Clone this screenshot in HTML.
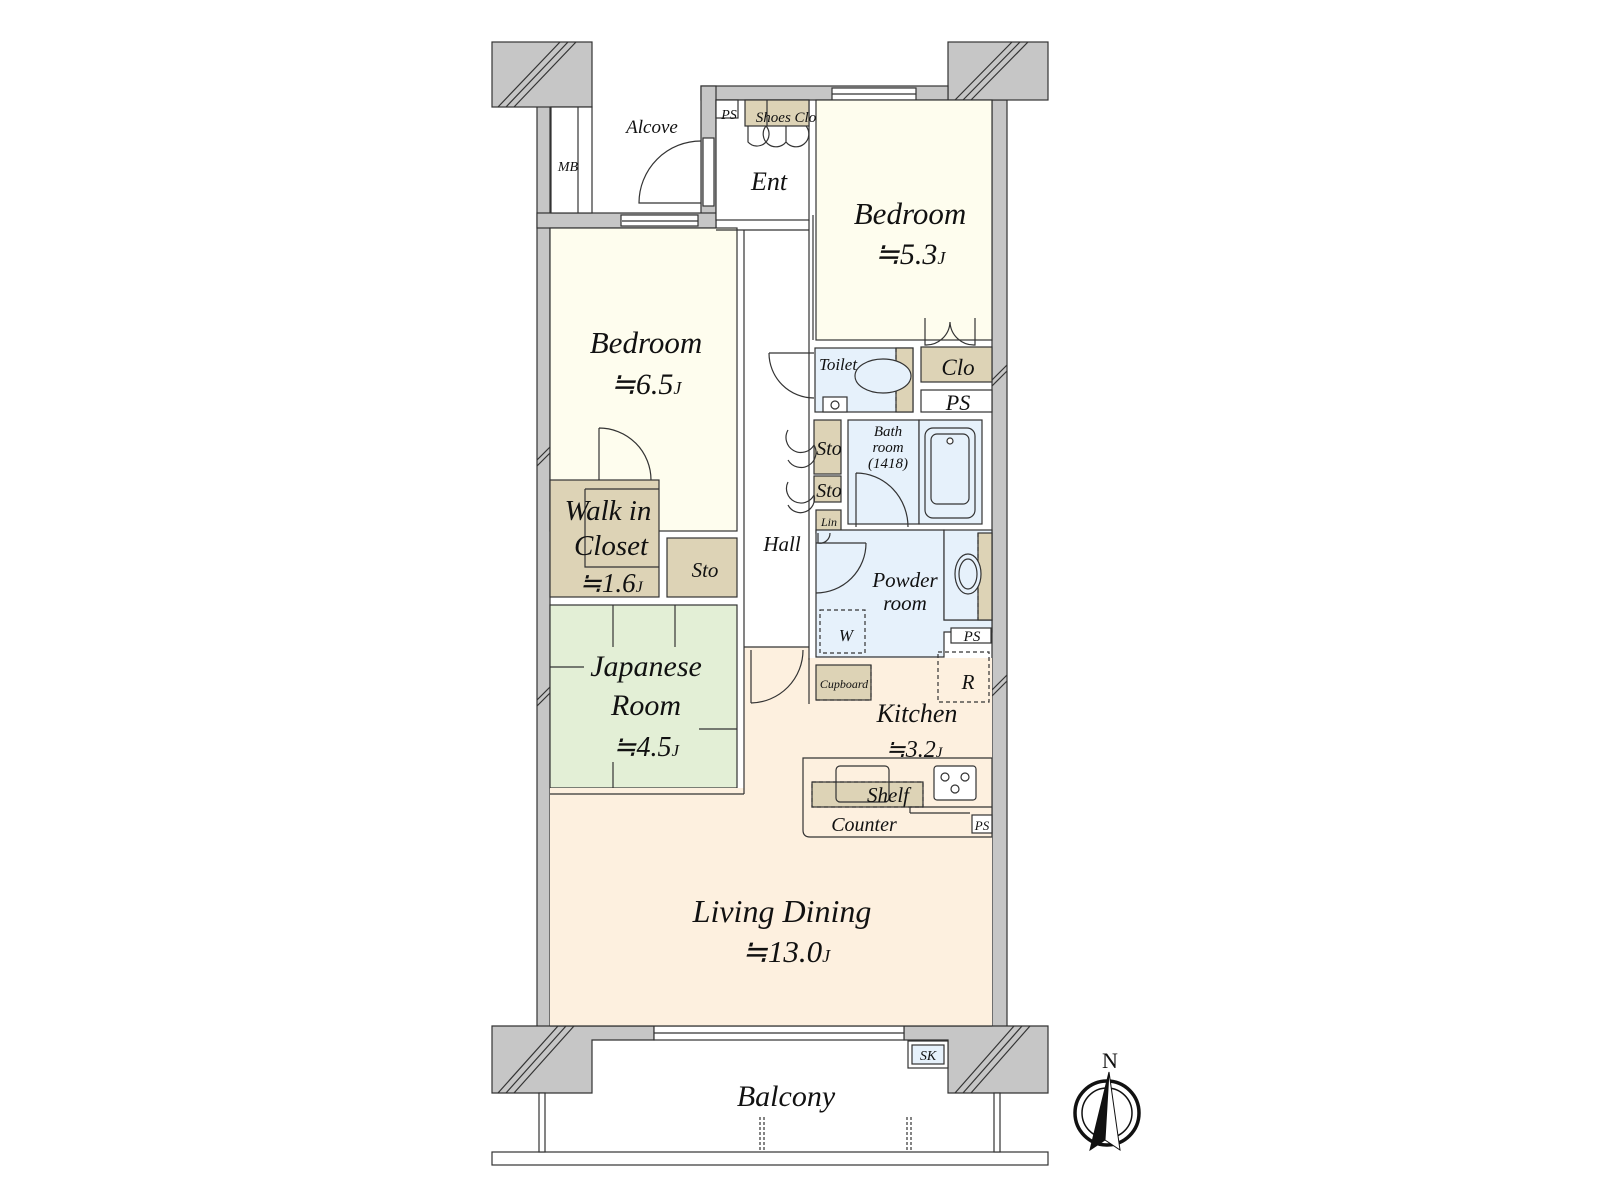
<!DOCTYPE html>
<html><head><meta charset="utf-8"><style>
html,body{margin:0;padding:0;background:#fff;}
svg{display:block;}
text{font-family:"Liberation Serif",serif;font-style:italic;fill:#111;text-anchor:middle;}
</style></head><body>
<svg width="1600" height="1200" viewBox="0 0 1600 1200" xmlns="http://www.w3.org/2000/svg">
<g stroke="#333" stroke-width="1.2">
<rect x="537" y="100" width="13" height="940" fill="#c6c6c6"/>
<rect x="992" y="100" width="15" height="940" fill="#c6c6c6"/>
<rect x="492" y="42" width="100" height="65" fill="#c6c6c6"/>
<rect x="948" y="42" width="100" height="58" fill="#c6c6c6"/>
<rect x="701" y="86" width="247" height="14" fill="#c6c6c6"/>
<rect x="832" y="88" width="84" height="12" fill="#fff"/>
<rect x="701" y="86" width="15" height="142" fill="#c6c6c6"/>
<rect x="703" y="138" width="11" height="68" fill="#fff"/>
<rect x="537" y="213" width="179" height="15" fill="#c6c6c6"/>
<rect x="621" y="215" width="77" height="11" fill="#fff"/>
<path d="M492,1026 H654 V1040 H592 V1093 H492 Z" fill="#c6c6c6"/>
<path d="M904,1026 H1048 V1093 H948 V1040 H904 Z" fill="#c6c6c6"/>
<rect x="654" y="1026" width="250" height="14" fill="#fff"/>
</g>
<g stroke="#333" stroke-width="1.2">
<line x1="498" y1="107" x2="560" y2="42"/><line x1="506" y1="107" x2="568" y2="42"/><line x1="514" y1="107" x2="576" y2="42"/>
<line x1="955" y1="100" x2="1012" y2="42"/><line x1="963" y1="100" x2="1020" y2="42"/><line x1="971" y1="100" x2="1028" y2="42"/>
<line x1="498" y1="1093" x2="558" y2="1026"/><line x1="506" y1="1093" x2="566" y2="1026"/><line x1="514" y1="1093" x2="574" y2="1026"/>
<line x1="955" y1="1093" x2="1014" y2="1026"/><line x1="963" y1="1093" x2="1022" y2="1026"/><line x1="971" y1="1093" x2="1030" y2="1026"/>
<line x1="537" y1="460" x2="550" y2="447"/><line x1="537" y1="466" x2="550" y2="453"/>
<line x1="537" y1="700" x2="550" y2="687"/><line x1="537" y1="706" x2="550" y2="693"/>
<line x1="992" y1="380" x2="1007" y2="365"/><line x1="992" y1="386" x2="1007" y2="371"/>
<line x1="992" y1="690" x2="1007" y2="675"/><line x1="992" y1="696" x2="1007" y2="681"/>
</g>
<g stroke="#333" stroke-width="1.2">
<line x1="654" y1="1033" x2="904" y2="1033"/><line x1="622" y1="221" x2="698" y2="221"/><line x1="832" y1="94" x2="916" y2="94"/>
<rect x="551" y="107" width="41" height="106" fill="#fff"/><line x1="578" y1="107" x2="578" y2="213"/>
<rect x="816" y="100" width="176" height="240" fill="#fefdee"/>
<rect x="550" y="228" width="187" height="303" fill="#fefdee"/>
<rect x="550" y="480" width="109" height="117" fill="#ddd3b6"/>
<path d="M585,489 H659" fill="none"/><path d="M585,489 V567 H659" fill="none"/>
<rect x="667" y="538" width="70" height="59" fill="#ddd3b6"/>
<rect x="550" y="605" width="187" height="183" fill="#e3efd6"/>
<rect x="550" y="788" width="442" height="238" fill="#fdf0df" stroke="none"/>
<path d="M744,647 H809 V658 H992 V1026 H550 V794 H744 Z" fill="#fdf0df" stroke="none"/>
<line x1="550" y1="1026" x2="992" y2="1026"/>
<line x1="744" y1="647" x2="744" y2="794"/>
<line x1="550" y1="794" x2="744" y2="794"/>
<rect x="716" y="100" width="93" height="120" fill="#fff"/>
<rect x="716" y="100" width="22" height="18" fill="#fff"/>
<rect x="745" y="100" width="64" height="26" fill="#ddd3b6"/>
<line x1="767" y1="100" x2="767" y2="126"/>
<line x1="716" y1="230" x2="809" y2="230"/>
<line x1="744" y1="230" x2="744" y2="647"/>
<line x1="809" y1="220" x2="809" y2="660"/>
<line x1="744" y1="647" x2="809" y2="647"/>
<rect x="815" y="348" width="98" height="64" fill="#e6f1fb"/>
<rect x="896" y="348" width="17" height="64" fill="#ddd3b6"/>
<line x1="896" y1="348" x2="896" y2="412" stroke-dasharray="4,3"/>
<ellipse cx="883" cy="376" rx="28" ry="17" fill="#e6f1fb"/>
<rect x="823" y="397" width="24" height="15" fill="#fff"/>
<circle cx="835" cy="405" r="4" fill="none"/>
<rect x="921" y="347" width="71" height="35" fill="#ddd3b6"/>
<rect x="921" y="390" width="71" height="22" fill="#fff"/>
<rect x="814" y="420" width="27" height="54" fill="#ddd3b6"/>
<rect x="814" y="476" width="27" height="26" fill="#ddd3b6"/>
<rect x="816" y="510" width="25" height="23" fill="#ddd3b6"/>
<rect x="848" y="420" width="71" height="104" fill="#e6f1fb"/>
<rect x="919" y="420" width="63" height="104" fill="#e6f1fb"/>
<rect x="925" y="428" width="50" height="90" rx="8" fill="#e6f1fb"/>
<rect x="931" y="434" width="38" height="70" rx="6" fill="#e6f1fb"/>
<circle cx="950" cy="441" r="3" fill="#fff"/>
<path d="M816,530 H944 V620 H992 V632 H944 V657 H816 Z" fill="#e6f1fb"/>
<rect x="944" y="530" width="48" height="90" fill="#e6f1fb"/>
<rect x="978" y="533" width="14" height="87" fill="#ddd3b6"/>
<line x1="978" y1="533" x2="978" y2="620" stroke-dasharray="4,3"/>
<ellipse cx="968" cy="574" rx="13" ry="20" fill="#e6f1fb"/>
<ellipse cx="968" cy="574" rx="9" ry="15" fill="none"/>
<rect x="820" y="610" width="45" height="43" fill="none" stroke-dasharray="4,3"/>
<rect x="951" y="628" width="40" height="15" fill="#fff"/>
<rect x="816" y="665" width="55" height="35" fill="#ddd3b6"/>
<line x1="816" y1="700" x2="871" y2="700" stroke-dasharray="4,3"/>
<line x1="871" y1="665" x2="871" y2="700" stroke-dasharray="4,3"/>
<rect x="938" y="652" width="51" height="50" fill="none" stroke-dasharray="4,3"/>
<line x1="809" y1="658" x2="809" y2="704"/>
<path d="M803,758 H992 V837 H810 Q803,837 803,830 Z" fill="#fdf0df"/>
<rect x="812" y="782" width="111" height="25" fill="#ddd3b6"/>
<rect x="812" y="782" width="111" height="25" fill="none" stroke-dasharray="4,3"/>
<rect x="836" y="766" width="53" height="36" rx="4" fill="none"/>
<rect x="934" y="766" width="42" height="34" rx="3" fill="#fff"/>
<circle cx="945" cy="777" r="4" fill="none"/><circle cx="965" cy="777" r="4" fill="none"/><circle cx="955" cy="789" r="4" fill="none"/>
<line x1="910" y1="807" x2="992" y2="807"/>
<line x1="910" y1="807" x2="910" y2="813"/><line x1="910" y1="813" x2="970" y2="813"/>
<rect x="972" y="815" width="20" height="18" fill="#fff"/>
<line x1="613" y1="605" x2="613" y2="647"/><line x1="675" y1="605" x2="675" y2="647"/>
<line x1="550" y1="667" x2="584" y2="667"/><line x1="699" y1="729" x2="737" y2="729"/>
<line x1="613" y1="762" x2="613" y2="788"/>
<g fill="none">
<path d="M701,141 A62,62 0 0 0 639,203 L701,203"/>
<path d="M599,428 A52,52 0 0 1 651,480 M599,428 V480"/>
<path d="M856,473 A52,54 0 0 1 908,527 M856,473 V527"/>
<path d="M866,543 A50,50 0 0 1 816,593 M816,543 H866"/>
<path d="M803,650 A53,53 0 0 1 751,703 M751,650 V703"/>
<path d="M769,353 A45,45 0 0 0 814,398 M769,353 H814"/>
<path d="M788,430 A14,14 0 0 0 814,445 M788,460 A14,14 0 0 0 814,445 M788,482 A14,14 0 0 0 814,495 M788,505 A14,14 0 0 0 814,495"/>
<path d="M925,318 V345 A24,24 0 0 0 950,322 M975,318 V345 A24,24 0 0 1 950,322"/>
<path d="M748,126 V142 A10,10 0 0 0 766,126 M786,126 V142 A10,10 0 0 1 766,126 M786,126 V142 A10,10 0 0 0 806,126"/>
<path d="M818,533 V543 A10,10 0 0 0 830,533"/>
</g>
<line x1="813" y1="215" x2="813" y2="340"/>
<rect x="492" y="1152" width="556" height="13" fill="#fff"/>
<rect x="539" y="1093" width="6" height="59" fill="#fff"/>
<rect x="994" y="1093" width="6" height="59" fill="#fff"/>
<line x1="760" y1="1117" x2="760" y2="1150" stroke-dasharray="3,2"/><line x1="764" y1="1117" x2="764" y2="1150" stroke-dasharray="3,2"/>
<line x1="907" y1="1117" x2="907" y2="1150" stroke-dasharray="3,2"/><line x1="911" y1="1117" x2="911" y2="1150" stroke-dasharray="3,2"/>
<rect x="908" y="1041" width="40" height="27" fill="#fff"/>
<rect x="912" y="1045" width="32" height="19" fill="#e6f1fb"/>
</g>
<g stroke="#111">
<circle cx="1107" cy="1113" r="32" fill="none" stroke-width="3.5"/>
<circle cx="1107" cy="1113" r="25" fill="none" stroke-width="1.5"/>
<path d="M1109,1072 L1090,1150 L1105,1140 Z" fill="#111" stroke-width="1"/>
<path d="M1109,1072 L1120,1150 L1105,1140 Z" fill="#fff" stroke-width="1"/>
</g>
<text x="1110" y="1068" font-size="22" style="font-style:normal">N</text>
<text x="652" y="133" font-size="19">Alcove</text>
<text x="568" y="171" font-size="14">MB</text>
<text x="729" y="119" font-size="14">PS</text>
<text x="786" y="122" font-size="15">Shoes Clo</text>
<text x="769" y="190" font-size="26">Ent</text>
<text x="910" y="224" font-size="31">Bedroom</text>
<text x="910" y="264" font-size="30">≒5.3<tspan font-size="18">J</tspan></text>
<text x="646" y="353" font-size="31">Bedroom</text>
<text x="646" y="394" font-size="30">≒6.5<tspan font-size="18">J</tspan></text>
<text x="838" y="370" font-size="17">Toilet</text>
<text x="958" y="375" font-size="23">Clo</text>
<text x="958" y="410" font-size="22">PS</text>
<text x="829" y="455" font-size="20">Sto</text>
<text x="829" y="497" font-size="20">Sto</text>
<text x="888" y="436" font-size="15">Bath</text>
<text x="888" y="452" font-size="15">room</text>
<text x="888" y="468" font-size="15">(1418)</text>
<text x="829" y="526" font-size="12">Lin</text>
<text x="782" y="551" font-size="21">Hall</text>
<text x="705" y="577" font-size="21">Sto</text>
<text x="608" y="520" font-size="29">Walk in</text>
<text x="611" y="555" font-size="29">Closet</text>
<text x="611" y="592" font-size="27">≒1.6<tspan font-size="16">J</tspan></text>
<text x="905" y="587" font-size="21">Powder</text>
<text x="905" y="610" font-size="21">room</text>
<text x="846" y="641" font-size="17">W</text>
<text x="972" y="641" font-size="15">PS</text>
<text x="844" y="688" font-size="12">Cupboard</text>
<text x="968" y="689" font-size="21">R</text>
<text x="917" y="722" font-size="26">Kitchen</text>
<text x="914" y="757" font-size="24">≒3.2<tspan font-size="15">J</tspan></text>
<text x="646" y="676" font-size="30">Japanese</text>
<text x="646" y="715" font-size="30">Room</text>
<text x="646" y="756" font-size="28">≒4.5<tspan font-size="17">J</tspan></text>
<text x="888" y="802" font-size="21">Shelf</text>
<text x="864" y="831" font-size="20">Counter</text>
<text x="982" y="830" font-size="13">PS</text>
<text x="782" y="922" font-size="32">Living Dining</text>
<text x="786" y="962" font-size="31">≒13.0<tspan font-size="18">J</tspan></text>
<text x="928" y="1060" font-size="14">SK</text>
<text x="786" y="1106" font-size="30">Balcony</text>
</svg>
</body></html>
